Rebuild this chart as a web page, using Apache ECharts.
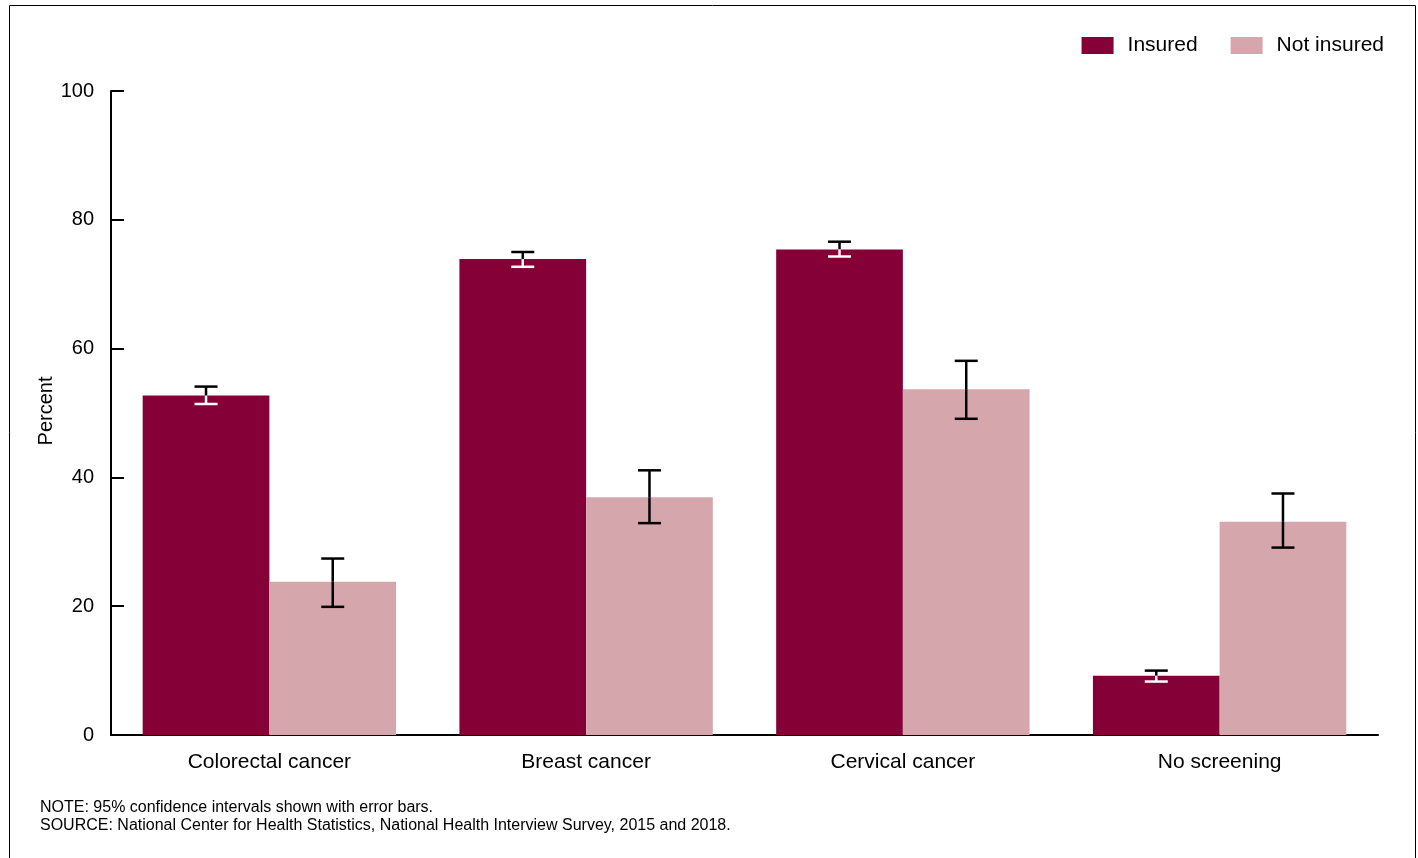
<!DOCTYPE html>
<html>
<head>
<meta charset="utf-8">
<script src="https://cdn.jsdelivr.net/npm/echarts@6/dist/echarts.min.js"></script>
<style>
html,body{margin:0;padding:0;background:#fff;}
#chart{width:1418px;height:858px;}
</style>
</head>
<body>
<div id="chart"></div>
<script>
const categories = ['Colorectal cancer', 'Breast cancer', 'Cervical cancer', 'No screening'];
const seriesNames = ['Insured', 'Not insured'];
const insured = [52.7, 73.9, 75.4, 9.2];
const insuredLow = [51.4, 72.7, 74.3, 8.3];
const insuredHigh = [54.1, 75.0, 76.6, 10.0];
const notInsured = [23.8, 36.9, 53.7, 33.1];
const notInsuredLow = [19.9, 32.9, 49.1, 29.1];
const notInsuredHigh = [27.4, 41.1, 58.1, 37.5];
const yTicks = [0, 20, 40, 60, 80, 100];
const yTitle = 'Percent';
const noteLines = [
  'NOTE: 95% confidence intervals shown with error bars.',
  'SOURCE: National Center for Health Statistics, National Health Interview Survey, 2015 and 2018.'
];

const FONT = '"Liberation Sans", Arial, sans-serif';
const colors = ['#850037', '#d5a7ad'];
const CAT_GAP = 0.2;

function errorData(vals, lows, highs) {
  return vals.map((v, i) => [i, v, lows[i], highs[i]]);
}

function makeErrorRender(seriesIdx, whiteInside) {
  return function (params, api) {
    const cat = api.value(0);
    const val = api.value(1);
    const lo = api.value(2);
    const hi = api.value(3);
    const catW = api.size([1, 0])[0];
    const barW = catW * (1 - CAT_GAP) / 2;
    const offset = seriesIdx === 0 ? -barW / 2 : barW / 2;
    const pHi = api.coord([cat, hi]);
    const pVal = api.coord([cat, val]);
    const pLo = api.coord([cat, lo]);
    const x = pHi[0] + offset;
    const capHalf = 11.5;
    const black = { stroke: '#000', lineWidth: 2.5 };
    const inner = { stroke: whiteInside ? '#fff' : '#000', lineWidth: 2.5 };
    return {
      type: 'group',
      children: [
        { type: 'line', shape: { x1: x, y1: pHi[1], x2: x, y2: pVal[1] }, style: black },
        { type: 'line', shape: { x1: x, y1: pVal[1], x2: x, y2: pLo[1] }, style: inner },
        { type: 'line', shape: { x1: x - capHalf, y1: pHi[1], x2: x + capHalf, y2: pHi[1] }, style: black },
        { type: 'line', shape: { x1: x - capHalf, y1: pLo[1], x2: x + capHalf, y2: pLo[1] }, style: inner }
      ]
    };
  };
}

const chart = echarts.init(document.getElementById('chart'), null, { renderer: 'canvas' });
chart.setOption({
  animation: false,
  backgroundColor: '#fff',
  textStyle: { fontFamily: FONT, color: '#000' },
  grid: { left: 111, right: 40, top: 91, bottom: 123, containLabel: false },
  legend: {
    data: seriesNames,
    right: 34,
    top: 35,
    padding: 0,
    itemWidth: 32,
    itemHeight: 17,
    itemGap: 33,
    icon: 'rect',
    textStyle: { fontFamily: FONT, fontSize: 21, color: '#000', padding: [0, 0, 0, 9] }
  },
  xAxis: {
    type: 'category',
    data: categories,
    axisLine: { lineStyle: { color: '#000', width: 2 } },
    axisTick: { show: false },
    axisLabel: { fontFamily: FONT, fontSize: 21, color: '#000', margin: 17 },
    splitLine: { show: false }
  },
  yAxis: {
    type: 'value',
    min: yTicks[0],
    max: yTicks[yTicks.length - 1],
    interval: 20,
    axisLine: { show: true, lineStyle: { color: '#000', width: 2 } },
    axisTick: { show: true, inside: true, length: 13, lineStyle: { color: '#000', width: 2 } },
    axisLabel: { fontFamily: FONT, fontSize: 20, color: '#000', margin: 17 },
    splitLine: { show: false }
  },
  series: [
    {
      name: seriesNames[0], type: 'bar', data: insured,
      itemStyle: { color: colors[0] }, barGap: '0%', barCategoryGap: (CAT_GAP * 100) + '%'
    },
    {
      name: seriesNames[1], type: 'bar', data: notInsured,
      itemStyle: { color: colors[1] }, barGap: '0%', barCategoryGap: (CAT_GAP * 100) + '%'
    },
    {
      type: 'custom', name: 'errInsured', z: 10,
      renderItem: makeErrorRender(0, true),
      data: errorData(insured, insuredLow, insuredHigh),
      encode: { x: 0, y: [2, 3] }, silent: true
    },
    {
      type: 'custom', name: 'errNotInsured', z: 10,
      renderItem: makeErrorRender(1, false),
      data: errorData(notInsured, notInsuredLow, notInsuredHigh),
      encode: { x: 0, y: [2, 3] }, silent: true
    }
  ],
  graphic: [
    {
      type: 'rect', position: [9.5, 5.5], silent: true,
      shape: { x: 0, y: 0, width: 1406, height: 900 },
      style: { fill: 'none', stroke: '#000', lineWidth: 1 }
    },
    {
      type: 'text', x: 46, y: 411, rotation: Math.PI / 2, silent: true,
      style: { text: yTitle, font: '20px ' + FONT, fill: '#000', align: 'center', verticalAlign: 'middle' }
    },
    {
      type: 'text', left: 40, top: 799, silent: true,
      style: { text: noteLines.join('\n'), font: '16px ' + FONT, fill: '#000', lineHeight: 18 }
    }
  ]
});
</script>
</body>
</html>
